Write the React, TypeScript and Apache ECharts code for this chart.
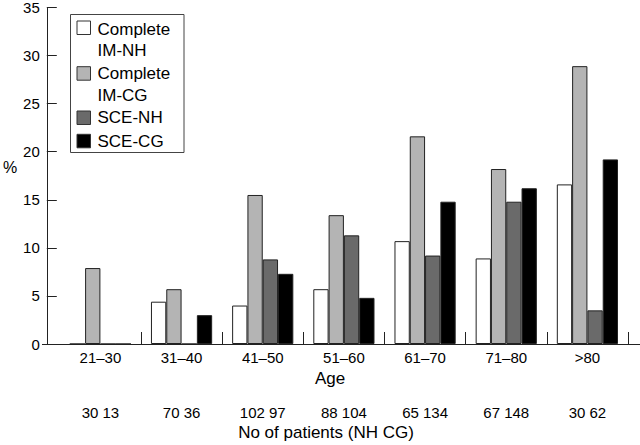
import React, { useEffect, useRef } from "react";
import * as echarts from "echarts";

const categories = ["21–30", "31–40", "41–50", "51–60", "61–70", "71–80", ">80"];
const completeIMNH = [0, 4.4, 4.0, 5.7, 10.7, 8.9, 16.6];
const completeIMCG = [7.9, 5.7, 15.5, 13.4, 21.6, 18.2, 28.9];
const sceNH = [0, 0, 8.8, 11.3, 9.2, 14.8, 3.5];
const sceCG = [0, 3.0, 7.3, 4.8, 14.8, 16.2, 19.2];
const nhPatients = [30, 70, 102, 88, 65, 67, 30];
const cgPatients = [13, 36, 97, 104, 134, 148, 62];
const seriesNames = ["Complete IM-NH", "Complete IM-CG", "SCE-NH", "SCE-CG"];
const legendLines = [["Complete", "IM-NH"], ["Complete", "IM-CG"], ["SCE-NH"], ["SCE-CG"]];
const colors = ["#ffffff", "#b4b4b4", "#6a6a6a", "#000000"];

const FONT = "'Liberation Sans', Arial, Helvetica, sans-serif";

export default function App() {
  const ref = useRef<HTMLDivElement>(null);
  useEffect(() => {
    if (!ref.current) return;
    const chart = echarts.init(ref.current, null, { renderer: "svg" });
    const patientLabels = nhPatients.map((n, i) => `${n} ${cgPatients[i]}`);
    const values = [completeIMNH, completeIMCG, sceNH, sceCG];

    const iconY = [21, 66.7, 111, 134.3];
    const textY = [[29, 50], [73, 95], [117], [141]];
    const legendGraphics: any[] = [
      {
        type: "rect",
        shape: { x: 70.5, y: 14.5, width: 113.5, height: 138 },
        style: { fill: "#fff", stroke: "#444", lineWidth: 1 },
        z: 10,
      },
    ];
    legendLines.forEach((lines, i) => {
      legendGraphics.push({
        type: "rect",
        shape: { x: 77, y: iconY[i], width: 13.5, height: 13.5 },
        style: { fill: colors[i], stroke: "#333", lineWidth: 1 },
        z: 11,
      });
      lines.forEach((t, j) => {
        legendGraphics.push({
          type: "text",
          x: 97.5,
          y: textY[i][j],
          style: { text: t, font: `17px ${FONT}`, fill: "#000", textAlign: "left", textVerticalAlign: "middle" },
          z: 11,
        });
      });
    });

    chart.setOption({
      animation: false,
      grid: { left: 55, right: 12, top: 6, bottom: 101 },
      xAxis: [
        {
          type: "category",
          data: categories,
          axisLine: { show: true, lineStyle: { color: "#222", width: 1 } },
          axisTick: {
            show: true,
            inside: true,
            length: 12,
            interval: (index: number) => index !== 0,
            lineStyle: { color: "#222" },
          },
          axisLabel: { margin: 6, fontSize: 15, color: "#000", fontFamily: FONT },
        },
        {
          type: "category",
          position: "bottom",
          offset: 55,
          data: patientLabels,
          axisLine: { show: false },
          axisTick: { show: false },
          axisLabel: { margin: 6, fontSize: 15, color: "#000", fontFamily: FONT },
        },
      ],
      yAxis: {
        type: "value",
        min: 0,
        max: 35,
        interval: 5,
        offset: 13,
        name: "%",
        nameLocation: "middle",
        nameRotate: 0,
        nameGap: 29,
        nameTextStyle: { fontSize: 16, color: "#000", fontFamily: FONT, verticalAlign: "bottom" },
        axisLine: { show: true, lineStyle: { color: "#222", width: 1 } },
        axisTick: { show: true, inside: true, length: 10, lineStyle: { color: "#222" } },
        axisLabel: { margin: 7, fontSize: 15, color: "#000", fontFamily: FONT },
        splitLine: { show: false },
      },
      series: values.map((v, i) => ({
        name: seriesNames[i],
        type: "bar",
        xAxisIndex: 0,
        data: v,
        barWidth: 15.3,
        barGap: "0%",
        itemStyle: { color: colors[i], borderColor: "#222", borderWidth: 1 },
      })),
      graphic: [
        {
          type: "line",
          shape: { x1: 42, y1: 344.5, x2: 640, y2: 344.5 },
          style: { stroke: "#222", lineWidth: 1 },
          z: 5,
        },
        {
          type: "text",
          x: 330,
          y: 378,
          style: { text: "Age", font: `17px ${FONT}`, fill: "#000", textAlign: "center", textVerticalAlign: "middle" },
        },
        {
          type: "text",
          x: 326,
          y: 432,
          style: {
            text: "No of patients (NH CG)",
            font: `17px ${FONT}`,
            fill: "#000",
            textAlign: "center",
            textVerticalAlign: "middle",
          },
        },
        ...legendGraphics,
      ],
    });
    return () => chart.dispose();
  }, []);
  return <div ref={ref} style={{ width: 640, height: 445, position: "absolute", left: 0, top: 0 }} />;
}
